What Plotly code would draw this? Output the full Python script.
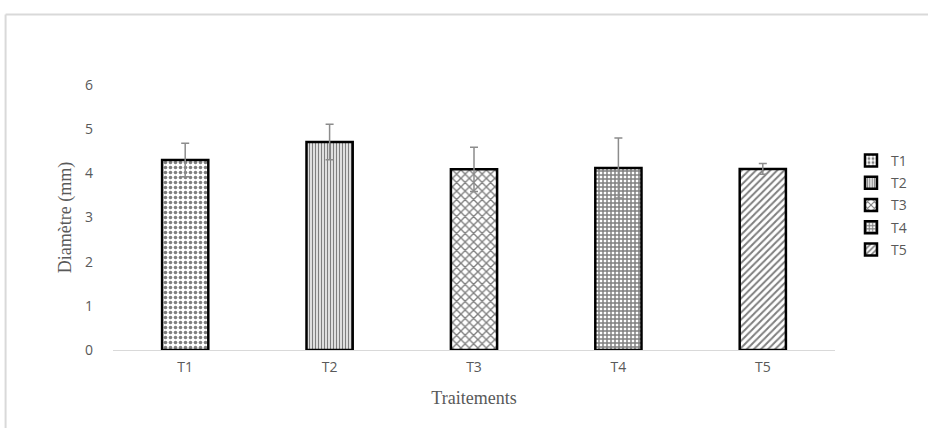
import plotly.graph_objects as go

categories = ["T1", "T2", "T3", "T4", "T5"]
diametre = [4.30, 4.71, 4.09, 4.12, 4.10]
erreur = [0.38, 0.40, 0.50, 0.68, 0.12]
y_ticks = [0, 1, 2, 3, 4, 5, 6]

patterns = [
    dict(shape=".", size=5, solidity=0.4),
    dict(shape="|", size=3, solidity=0.5),
    dict(shape="x", size=6, solidity=0.4),
    dict(shape="+", size=4, solidity=0.6),
    dict(shape="/", size=5, solidity=0.4),
]

fig = go.Figure()
for i, cat in enumerate(categories):
    p = patterns[i]
    fig.add_trace(go.Bar(
        x=[cat], y=[diametre[i]], name=cat, width=0.32,
        legendgroup=cat,
        marker=dict(
            color="white",
            line=dict(color="black", width=2.5),
            pattern=dict(shape=p["shape"], size=p["size"], solidity=p["solidity"],
                         fgcolor="black", bgcolor="white", fillmode="overlay"),
        ),
        error_y=dict(type="data", array=[erreur[i]], visible=True,
                     color="#8c8c8c", thickness=1.5, width=4),
    ))

L, R, T, B = 112.5, 93, 85, 78
W, H = 928, 428
pw, ph = W - L - R, H - T - B

fig.update_layout(
    width=W, height=H,
    margin=dict(l=L, r=R, t=T, b=B, pad=0),
    paper_bgcolor="white", plot_bgcolor="white",
    barmode="overlay",
    showlegend=True,
    legend=dict(
        x=(851 - L) / pw, y=(H - B - 145) / ph, xanchor="left", yanchor="top",
        font=dict(family="Open Sans", size=14, color="#595959"),
        traceorder="grouped", tracegroupgap=1,
        itemwidth=30,
    ),
    xaxis=dict(
        categoryorder="array", categoryarray=categories,
        showline=True, linecolor="#d9d9d9", linewidth=1,
        ticks="", showgrid=False,
        tickfont=dict(family="Open Sans", size=14, color="#595959"),
        ticklabelstandoff=4,
        title=dict(text="Traitements",
                   font=dict(family="Liberation Serif", size=18, color="#595959"),
                   standoff=16),
    ),
    yaxis=dict(
        range=[0, 6], tickvals=y_ticks, showgrid=False, zeroline=False,
        showline=False, ticks="",
        tickfont=dict(family="Open Sans", size=14, color="#595959"),
        ticklabelstandoff=19,
        title=dict(text="Diamètre (mm)",
                   font=dict(family="Liberation Serif", size=18, color="#595959"),
                   standoff=8),
    ),
    shapes=[
        dict(type="line", xref="paper", yref="paper",
             x0=(5 - L) / pw, x1=(W + 5 - L) / pw,
             y0=(H - B - 14.5) / ph, y1=(H - B - 14.5) / ph,
             line=dict(color="#d9d9d9", width=2)),
        dict(type="line", xref="paper", yref="paper",
             x0=(5 - L) / pw, x1=(5 - L) / pw,
             y0=(H - B - 14.5) / ph, y1=(H - B - H - 10) / ph,
             line=dict(color="#d9d9d9", width=2)),
    ],
)

fig.write_html("out.html", config={"displayModeBar": False},
               post_script="document.body.style.margin='0';")
